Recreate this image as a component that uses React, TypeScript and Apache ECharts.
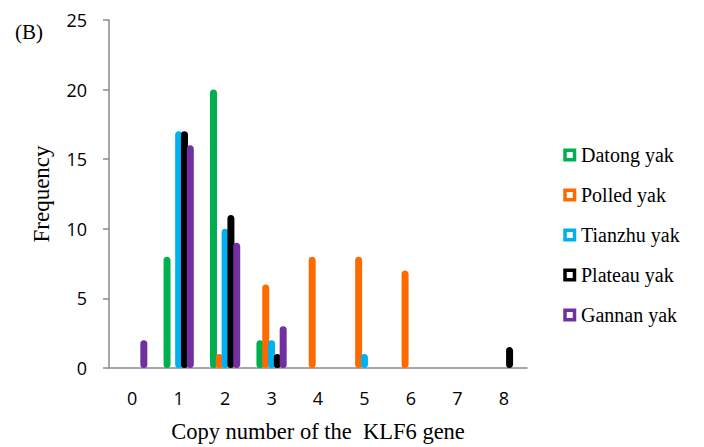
import React, { useEffect, useRef } from "react";
import * as echarts from "echarts";

const categories = ["0", "1", "2", "3", "4", "5", "6", "7", "8"];
const seriesNames = ["Datong yak", "Polled yak", "Tianzhu yak", "Plateau yak", "Gannan yak"];
const seriesColors = ["#00B050", "#FF6A00", "#00B0F0", "#000000", "#7030A0"];
const datong = [0, 8, 20, 2, 0, 0, 0, 0, 0];
const polled = [0, 0, 1, 6, 8, 8, 7, 0, 0];
const tianzhu = [0, 17, 10, 2, 0, 1, 0, 0, 0];
const plateau = [0, 17, 11, 1, 0, 0, 0, 0, 1.5];
const gannan = [2, 16, 9, 3, 0, 0, 0, 0, 0];
const yTicks = { min: 0, max: 25, interval: 5 };

const allValues = [datong, polled, tianzhu, plateau, gannan];

export default function App() {
  const ref = useRef<HTMLDivElement>(null);
  useEffect(() => {
    if (!ref.current) return;
    const chart = echarts.init(ref.current, null, { renderer: "svg" });
    const serif = "Liberation Serif";
    const sans = "Open Sans";
    const legendTop = 155;
    const legendStep = 40;
    const legendItems = seriesNames.map((name, i) => ({
      type: "group",
      x: 565,
      y: legendTop + i * legendStep,
      children: [
        {
          type: "rect",
          shape: { x: 0, y: -4.75, width: 9.5, height: 9.5 },
          style: { fill: "#ffffff", stroke: seriesColors[i], lineWidth: 3.5 },
        },
        {
          type: "text",
          x: 16,
          y: 0,
          style: {
            text: name,
            font: `20px "${serif}"`,
            fill: "#000",
            verticalAlign: "middle",
            align: "left",
          },
        },
      ],
    }));
    chart.setOption({
      animation: false,
      backgroundColor: "#ffffff",
      textStyle: { fontFamily: serif },
      graphic: [
        {
          type: "text",
          left: 15,
          top: 21,
          style: { text: "(B)", font: `21px "${serif}"`, fill: "#000" },
        },
        ...legendItems,
      ],
      grid: {
        left: 109,
        right: 177,
        top: 20,
        bottom: 79,
        containLabel: false,
        outerBoundsMode: "none",
      },
      xAxis: {
        type: "category",
        data: categories,
        boundaryGap: true,
        axisLine: { show: true, lineStyle: { color: "#8a8a8a", width: 1.5 } },
        axisTick: { show: false },
        axisLabel: { fontFamily: sans, fontSize: 18, color: "#000", margin: 21 },
        name: "Copy number of the  KLF6 gene",
        nameLocation: "middle",
        nameGap: 52,
        nameTextStyle: { fontFamily: serif, fontSize: 22.5, color: "#000" },
      },
      yAxis: {
        type: "value",
        min: yTicks.min,
        max: yTicks.max,
        interval: yTicks.interval,
        splitLine: { show: false },
        axisLine: { show: true, lineStyle: { color: "#8a8a8a", width: 1.5 } },
        axisTick: { show: true, length: 6, lineStyle: { color: "#8a8a8a", width: 1.5 } },
        axisLabel: { fontFamily: sans, fontSize: 18, color: "#000", margin: 22 },
        name: "Frequency",
        nameLocation: "middle",
        nameGap: 56,
        nameTextStyle: { fontFamily: serif, fontSize: 23, color: "#000" },
      },
      series: seriesNames.map((name, i) => ({
        name,
        type: "bar",
        barWidth: 7,
        barGap: "-17%",
        data: allValues[i].map((v) => (v === 0 ? "-" : v)),
        itemStyle: {
          color: "#ffffff",
          borderColor: seriesColors[i],
          borderWidth: 3.5,
          borderRadius: 3,
        },
      })),
    });
    return () => chart.dispose();
  }, []);
  return (
    <div
      ref={ref}
      style={{ position: "fixed", left: 0, top: 0, width: 704, height: 447 }}
    />
  );
}
